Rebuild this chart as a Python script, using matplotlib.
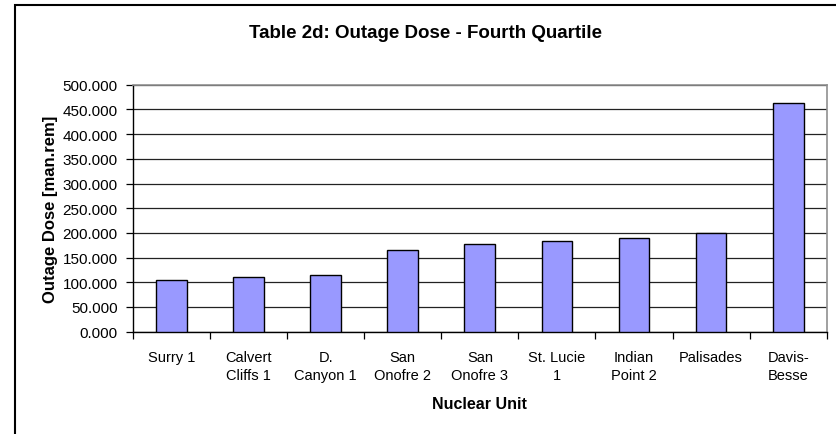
import matplotlib
matplotlib.use("Agg")
import matplotlib.pyplot as plt
from matplotlib.patches import Rectangle
from matplotlib.ticker import FixedLocator, NullFormatter

categories = ["Surry 1", "Calvert\nCliffs 1", "D.\nCanyon 1", "San\nOnofre 2", "San\nOnofre 3",
              "St. Lucie\n1", "Indian\nPoint 2", "Palisades", "Davis-\nBesse"]
dose = [105.0, 111.0, 114.0, 166.0, 178.0, 184.0, 190.0, 199.0, 462.0]
yticks = [0, 50, 100, 150, 200, 250, 300, 350, 400, 450, 500]

plt.rcParams['font.family'] = ['Liberation Sans', 'DejaVu Sans']

fig = plt.figure(figsize=(8.37, 4.35), dpi=100)
ax = fig.add_axes([133/837, 1 - 332.7/435, (826.7 - 133)/837, (332.7 - 85.7)/435])

x = list(range(len(categories)))
ax.bar(x, dose, width=0.4, color="#9999FF", edgecolor="black", linewidth=1.0, zorder=3)

ax.set_xlim(-0.5, len(categories) - 0.5)
ax.set_ylim(0, 500)
ax.set_yticks(yticks)
ax.set_yticklabels([f"{v:.3f}" for v in yticks], fontsize=11)
ax.yaxis.grid(True, color="#222222", linewidth=0.9, zorder=0)
ax.set_axisbelow(True)

ax.set_xticks(x)
ax.set_xticklabels(categories, fontsize=10.5, linespacing=1.4)
ax.tick_params(axis='x', which='major', length=0, pad=13)
ax.xaxis.set_minor_locator(FixedLocator([i - 0.5 for i in range(len(categories) + 1)]))
ax.xaxis.set_minor_formatter(NullFormatter())
ax.tick_params(axis='x', which='minor', length=5, width=0.9, color="black", direction='out')
ax.tick_params(axis='y', length=5, width=0.9, color="black", direction='out', pad=6)

for s in ["top", "right"]:
    ax.spines[s].set_color("#909090")
    ax.spines[s].set_linewidth(1.2)
for s in ["left", "bottom"]:
    ax.spines[s].set_color("black")
    ax.spines[s].set_linewidth(1.0)

ax.set_ylabel("Outage Dose [man.rem]", fontsize=12, fontweight='bold', labelpad=3)
ax.set_xlabel("Nuclear Unit", fontsize=11.5, fontweight='bold', labelpad=10)

fig.text(426/837, 1 - 33/435, "Table 2d: Outage Dose - Fourth Quartile",
         ha='center', va='center', fontsize=13.5, fontweight='bold')

fig.patches.append(Rectangle((15.5/837, -0.2), 1.2, (435 - 6)/435 + 0.2,
                             transform=fig.transFigure, fill=False,
                             edgecolor="black", linewidth=1.5))

fig.savefig("out.png", dpi=100)
